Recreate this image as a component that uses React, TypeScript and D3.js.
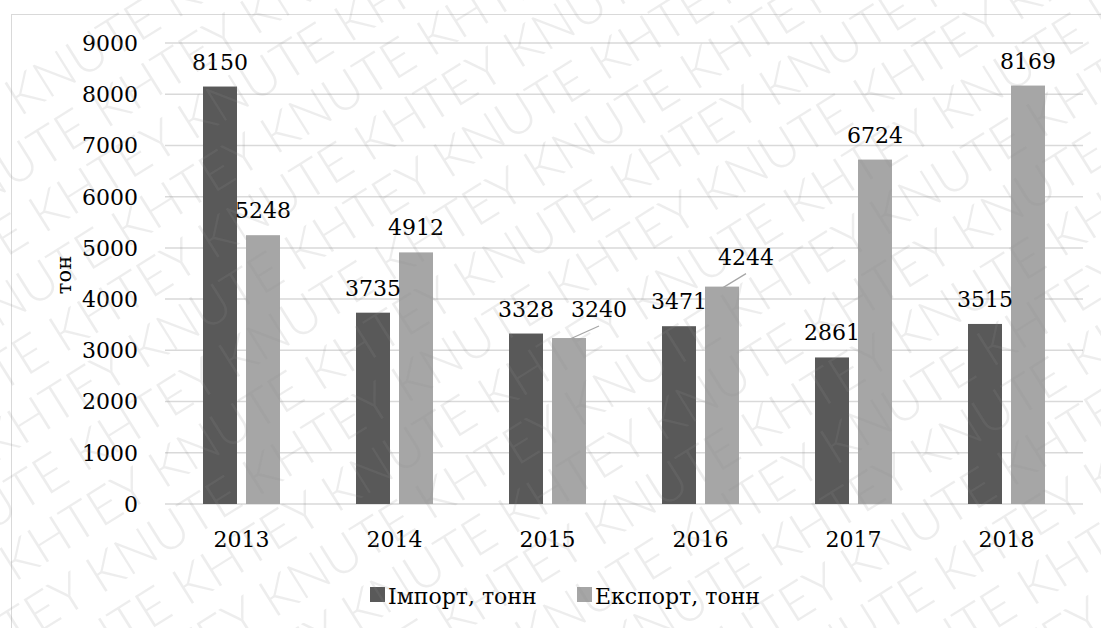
import React from "react";
import * as d3 from "d3";

const years = ["2013", "2014", "2015", "2016", "2017", "2018"];
const importValues = [8150, 3735, 3328, 3471, 2861, 3515];
const exportValues = [5248, 4912, 3240, 4244, 6724, 8169];
const yTicks = [0, 1000, 2000, 3000, 4000, 5000, 6000, 7000, 8000, 9000];
const seriesNames = ["Імпорт, тонн", "Експорт, тонн"];
const yAxisTitle = "тон";
const watermarkWords = ["KNUTE", "KHTEY"];

const W = 1101;
const H = 628;
const FONT = "'DejaVu Serif', serif";
const FS = 22;
const colors = ["#595959", "#a6a6a6"];

// label offsets (dx, dy) for labels moved away from default position, with leader lines
const exportLabelShift: Record<number, [number, number]> = {
  2: [30, -4],
  3: [24, -5],
};

const txt: React.CSSProperties = { fontFamily: FONT, fontSize: FS };

export default function App() {
  const x = d3.scaleBand<string>().domain(years).range([165, 1083]);
  const inner = d3
    .scaleBand<string>()
    .domain(["imp", "exp"])
    .range([-38.5, 38.5])
    .paddingInner(9 / 43);
  const y = d3.scaleLinear().domain([0, 9000]).range([504, 43]);

  const series = [
    { key: "imp", values: importValues, color: colors[0] },
    { key: "exp", values: exportValues, color: colors[1] },
  ];

  // watermark rows
  const rows: React.ReactNode[] = [];
  for (let r = -8; r < 14; r++) {
    const start = (r + 100) % 2;
    const parts: string[] = [];
    for (let c = 0; c < 14; c++) parts.push(watermarkWords[(start + c) % 2]);
    rows.push(
      <text
        key={`w${r}`}
        x={-700 + ((r * 67) % 180)}
        y={314 + r * 56}
        style={{ fontFamily: "Lato, 'Open Sans', sans-serif", fontSize: 52, fontWeight: 300 }}
        fill="#8f8f8f"
        fillOpacity={0.16}
      >
        {parts.join(" ")}
      </text>
    );
  }

  return (
    <svg width={W} height={H} style={{ position: "absolute", left: 0, top: 0, background: "#fff" }}>
      <defs>
        <clipPath id="page">
          <rect x={0} y={0} width={W} height={H} />
        </clipPath>
      </defs>
      <rect x={0} y={0} width={W} height={H} fill="#fff" />
      <rect x={11.5} y={14.5} width={1200} height={700} fill="none" stroke="#d9d9d9" strokeWidth={1} />
      {yTicks.map((t) => (
        <g key={t}>
          <line x1={165} x2={1083} y1={y(t)} y2={y(t)} stroke="#d9d9d9" strokeWidth={1.5} />
          <text x={138} y={y(t)} dy="0.36em" textAnchor="end" style={txt} fill="#000">
            {t}
          </text>
        </g>
      ))}
      {series.map((s) =>
        s.values.map((v, i) => {
          const bx = (x(years[i]) as number) + x.bandwidth() / 2 + (inner(s.key) as number);
          return (
            <rect
              key={s.key + i}
              x={bx}
              y={y(v)}
              width={inner.bandwidth()}
              height={y(0) - y(v)}
              fill={s.color}
            />
          );
        })
      )}
      {series.map((s) =>
        s.values.map((v, i) => {
          const cx =
            (x(years[i]) as number) + x.bandwidth() / 2 + (inner(s.key) as number) + inner.bandwidth() / 2;
          const shift = s.key === "exp" ? exportLabelShift[i] : undefined;
          const dx = shift ? shift[0] : 0;
          const dy = shift ? shift[1] : 0;
          const ly = y(v) - 17 + dy;
          return (
            <g key={"l" + s.key + i}>
              {shift && (
                <line
                  x1={cx + 1}
                  y1={y(v) + 1}
                  x2={cx + dx}
                  y2={ly + 9}
                  stroke="#a6a6a6"
                  strokeWidth={1.2}
                />
              )}
              <text x={cx + dx} y={ly} textAnchor="middle" style={txt} fill="#000">
                {v}
              </text>
            </g>
          );
        })
      )}
      {years.map((yr) => (
        <text
          key={yr}
          x={(x(yr) as number) + x.bandwidth() / 2}
          y={547}
          textAnchor="middle"
          style={txt}
          fill="#000"
        >
          {yr}
        </text>
      ))}
      <text
        transform="translate(71 275) rotate(-90)"
        textAnchor="middle"
        style={{ fontFamily: FONT, fontSize: 21 }}
        fill="#000"
      >
        {yAxisTitle}
      </text>
      <g>
        <rect x={370} y={587} width={15} height={15} fill={colors[0]} />
        <text x={388} y={604} style={txt} fill="#000">
          {seriesNames[0]}
        </text>
        <rect x={577} y={587} width={15} height={15} fill={colors[1]} />
        <text x={595} y={604} style={txt} fill="#000">
          {seriesNames[1]}
        </text>
      </g>
      <g clipPath="url(#page)" pointerEvents="none">
        <g transform="rotate(-32 550 314)">{rows}</g>
      </g>
    </svg>
  );
}
